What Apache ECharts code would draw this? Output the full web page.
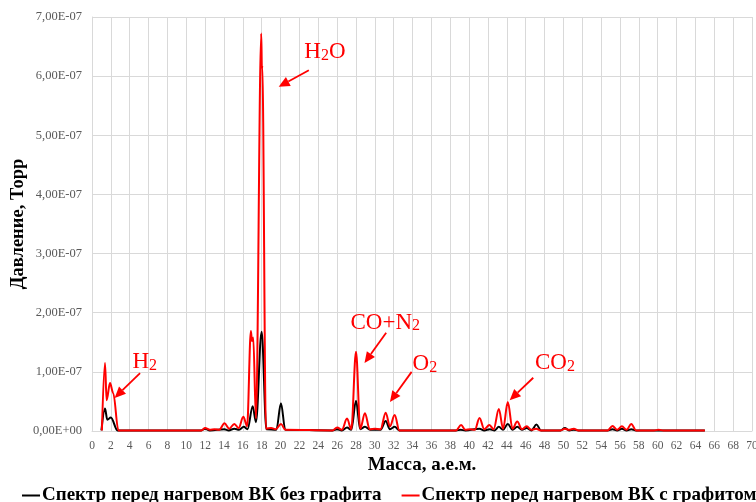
<!DOCTYPE html>
<html><head><meta charset="utf-8">
<script src="https://cdn.jsdelivr.net/npm/echarts@6/dist/echarts.min.js"></script>
<style>html,body{margin:0;padding:0;background:#fff}#c{width:756px;height:502px}</style>
</head><body><div id="c"></div>
<script>
// ---- data (pressure values in units of 1e-7 Torr) ----
const seriesNames = ['Спектр перед нагревом ВК без графита', 'Спектр перед нагревом ВК с графитом'];
const seriesColors = ['#000000', '#ff0000'];
const PUNIT = 1e-7;
const xAxisName = 'Масса, а.е.м.';
const yAxisName = 'Давление, Торр';
const xMin = 0, xMax = 70, xStep = 2;
const yMin = 0, yMax = 7e-7, yStep = 1e-7;

const massBlack = [1.0, 1.38, 1.62, 2.0, 2.7, 11.6, 12.0, 12.5, 14.05, 14.5, 15.1, 15.6, 16.1, 16.5, 17.04, 17.39, 17.99, 18.5, 19.55, 20.04, 20.5,
  25.5, 26.0, 26.5, 27.05, 27.5, 28.0, 28.45, 28.95, 29.5, 30.6, 31.15, 31.6, 32.1, 32.6, 38.6, 39.1, 39.6, 41.1, 41.6, 42.2, 42.7,
  43.15, 43.6, 44.1, 44.6, 45.1, 45.6, 46.1, 46.6, 47.15, 47.6, 49.7, 50.15, 50.6, 51.1, 51.6, 54.7, 55.2, 55.7, 56.2, 56.7, 57.2, 57.7, 65.0];
const pressBlack = [0.01, 0.38, 0.19, 0.23, 0.01, 0.01, 0.04, 0.01, 0.03, 0.01, 0.04, 0.02, 0.07, 0.03, 0.42, 0.15, 1.68, 0.03, 0.02, 0.47, 0.02,
  0.01, 0.03, 0.01, 0.06, 0.02, 0.51, 0.03, 0.07, 0.02, 0.02, 0.17, 0.03, 0.07, 0.01, 0.01, 0.02, 0.01, 0.04, 0.01, 0.03, 0.01,
  0.07, 0.02, 0.12, 0.02, 0.07, 0.02, 0.05, 0.01, 0.11, 0.01, 0.01, 0.05, 0.01, 0.02, 0.01, 0.01, 0.03, 0.01, 0.04, 0.01, 0.03, 0.01, 0.01];

const massRed = [1.05, 1.38, 1.55, 1.91, 2.25, 2.8, 11.6, 12.0, 12.5, 13.0, 13.5, 14.05, 14.55, 15.1, 15.55, 16.05, 16.45, 16.85, 16.97, 17.1, 17.39,
  17.95, 18.02, 18.06, 18.45, 19.0, 19.5, 20.05, 20.5, 25.5, 26.0, 26.5, 27.05, 27.5, 28.0, 28.45, 28.95, 29.45, 30.0, 30.6, 31.15, 31.6, 32.1, 32.6,
  38.6, 39.15, 39.6, 40.1, 40.6, 41.1, 41.6, 42.15, 42.6, 43.15, 43.6, 44.1, 44.6, 45.1, 45.6, 46.1, 46.6, 47.1, 47.6, 49.7, 50.15, 50.6, 51.1, 51.6,
  54.7, 55.2, 55.7, 56.2, 56.7, 57.2, 57.7, 59.6, 60.1, 60.6, 65.0];
const pressRed = [0.01, 1.15, 0.52, 0.81, 0.64, 0.01, 0.01, 0.05, 0.02, 0.03, 0.02, 0.13, 0.04, 0.12, 0.05, 0.24, 0.08, 1.69, 1.52, 1.58, 0.21,
  6.72, 6.12, 6.18, 0.04, 0.05, 0.03, 0.12, 0.02, 0.01, 0.06, 0.02, 0.21, 0.03, 1.34, 0.04, 0.30, 0.03, 0.04, 0.03, 0.31, 0.08, 0.27, 0.01,
  0.01, 0.10, 0.02, 0.03, 0.02, 0.22, 0.03, 0.10, 0.03, 0.37, 0.04, 0.49, 0.04, 0.16, 0.03, 0.08, 0.02, 0.04, 0.01, 0.01, 0.04, 0.02, 0.04, 0.01,
  0.01, 0.085, 0.02, 0.08, 0.02, 0.12, 0.01, 0.01, 0.02, 0.01, 0.01];

// annotations: text (rich), text center, arrow start, arrow tip — in data coords (mass, 1e-7 Torr)
const annoTexts = ['{n|H}{s|2}{n|O}', '{n|H}{s|2}', '{n|CO+N}{s|2}', '{n|O}{s|2}', '{n|CO}{s|2}'];
const annoAt = [[24.7, 6.41], [5.6, 1.17], [31.1, 1.83], [35.3, 1.13], [49.1, 1.15]];
const annoFrom = [[23.0, 6.10], [5.1, 0.98], [31.2, 1.66], [33.9, 1.0], [46.8, 0.9]];
const annoTo = [[19.8, 5.82], [2.4, 0.56], [28.9, 1.15], [31.6, 0.49], [44.3, 0.52]];

// ---- chart ----
const FONT = "'Liberation Serif','Times New Roman',serif";
const GRID_COLOR = '#d9d9d9';
const toPairs = (m, p) => m.map((x, i) => [x, p[i] * PUNIT]);

const chart = echarts.init(document.getElementById('c'), null, {renderer: 'canvas'});
chart.setOption({
  animation: false,
  backgroundColor: '#ffffff',
  grid: {left: 92, right: 4, top: 17, bottom: 71, containLabel: false, outerBoundsMode: 'none'},
  legend: {
    data: seriesNames, left: 17, top: 481, width: 1400,
    icon: 'rect', itemWidth: 18, itemHeight: 2, itemGap: 20,
    textStyle: {fontFamily: FONT, fontSize: 19, fontWeight: 'bold', color: '#000', padding: [0, 0, 0, -3]}
  },
  xAxis: {
    type: 'value', min: xMin, max: xMax, interval: xStep,
    name: xAxisName, nameLocation: 'middle', nameGap: 25, nameMoveOverlap: false,
    nameTextStyle: {fontFamily: FONT, fontSize: 19, fontWeight: 'bold', color: '#000'},
    axisLine: {show: true, lineStyle: {color: GRID_COLOR, width: 1}},
    axisTick: {show: false},
    axisLabel: {fontFamily: FONT, fontSize: 11.5, color: '#595959', margin: 9},
    splitLine: {show: true, lineStyle: {color: GRID_COLOR, width: 1}}
  },
  yAxis: {
    type: 'value', min: yMin, max: yMax, interval: yStep,
    name: yAxisName, nameLocation: 'middle', nameGap: 64, nameRotate: 90, nameMoveOverlap: false,
    nameTextStyle: {fontFamily: FONT, fontSize: 18.5, fontWeight: 'bold', color: '#000'},
    axisLine: {show: true, lineStyle: {color: GRID_COLOR, width: 1}},
    axisTick: {show: false},
    axisLabel: {
      fontFamily: FONT, fontSize: 12.5, color: '#595959', margin: 10,
      formatter: v => { const n = Math.round(v / PUNIT); return n === 0 ? '0,00E+00' : n + ',00E-07'; }
    },
    splitLine: {show: true, lineStyle: {color: GRID_COLOR, width: 1}}
  },
  series: [
    {name: seriesNames[0], type: 'line', data: toPairs(massBlack, pressBlack), showSymbol: false,
     smooth: 0.35, smoothMonotone: 'x', color: seriesColors[0],
     lineStyle: {color: seriesColors[0], width: 2}, itemStyle: {color: seriesColors[0]}, z: 2},
    {name: seriesNames[1], type: 'line', data: toPairs(massRed, pressRed), showSymbol: false,
     smooth: 0.35, smoothMonotone: 'x', color: seriesColors[1],
     lineStyle: {color: seriesColors[1], width: 2}, itemStyle: {color: seriesColors[1]}, z: 3}
  ]
});

// annotations
const px = p => chart.convertToPixel({gridIndex: 0}, [p[0], p[1] * PUNIT]);
const gfx = [];
const RED = '#ff0000';
annoTexts.forEach((t, i) => {
  const c = px(annoAt[i]), s = px(annoFrom[i]), e = px(annoTo[i]);
  const dx = e[0] - s[0], dy = e[1] - s[1], L = Math.hypot(dx, dy);
  const ux = dx / L, uy = dy / L, hl = 11, hw = 5;
  const bx = e[0] - ux * hl, by = e[1] - uy * hl;
  gfx.push({type: 'line', shape: {x1: s[0], y1: s[1], x2: bx, y2: by}, style: {stroke: RED, lineWidth: 1.8}, z: 10});
  gfx.push({type: 'polygon', shape: {points: [[e[0], e[1]], [bx - uy * hw, by + ux * hw], [bx + uy * hw, by - ux * hw]]}, style: {fill: RED}, z: 10});
  gfx.push({type: 'text', x: c[0], y: c[1], z: 11, style: {
    text: t, align: 'center', verticalAlign: 'middle', fill: RED,
    rich: {n: {fontSize: 23, fontFamily: FONT, fill: RED, verticalAlign: 'bottom'},
           s: {fontSize: 16, fontFamily: FONT, fill: RED, verticalAlign: 'bottom'}}
  }});
});
chart.setOption({graphic: gfx});
</script></body></html>
